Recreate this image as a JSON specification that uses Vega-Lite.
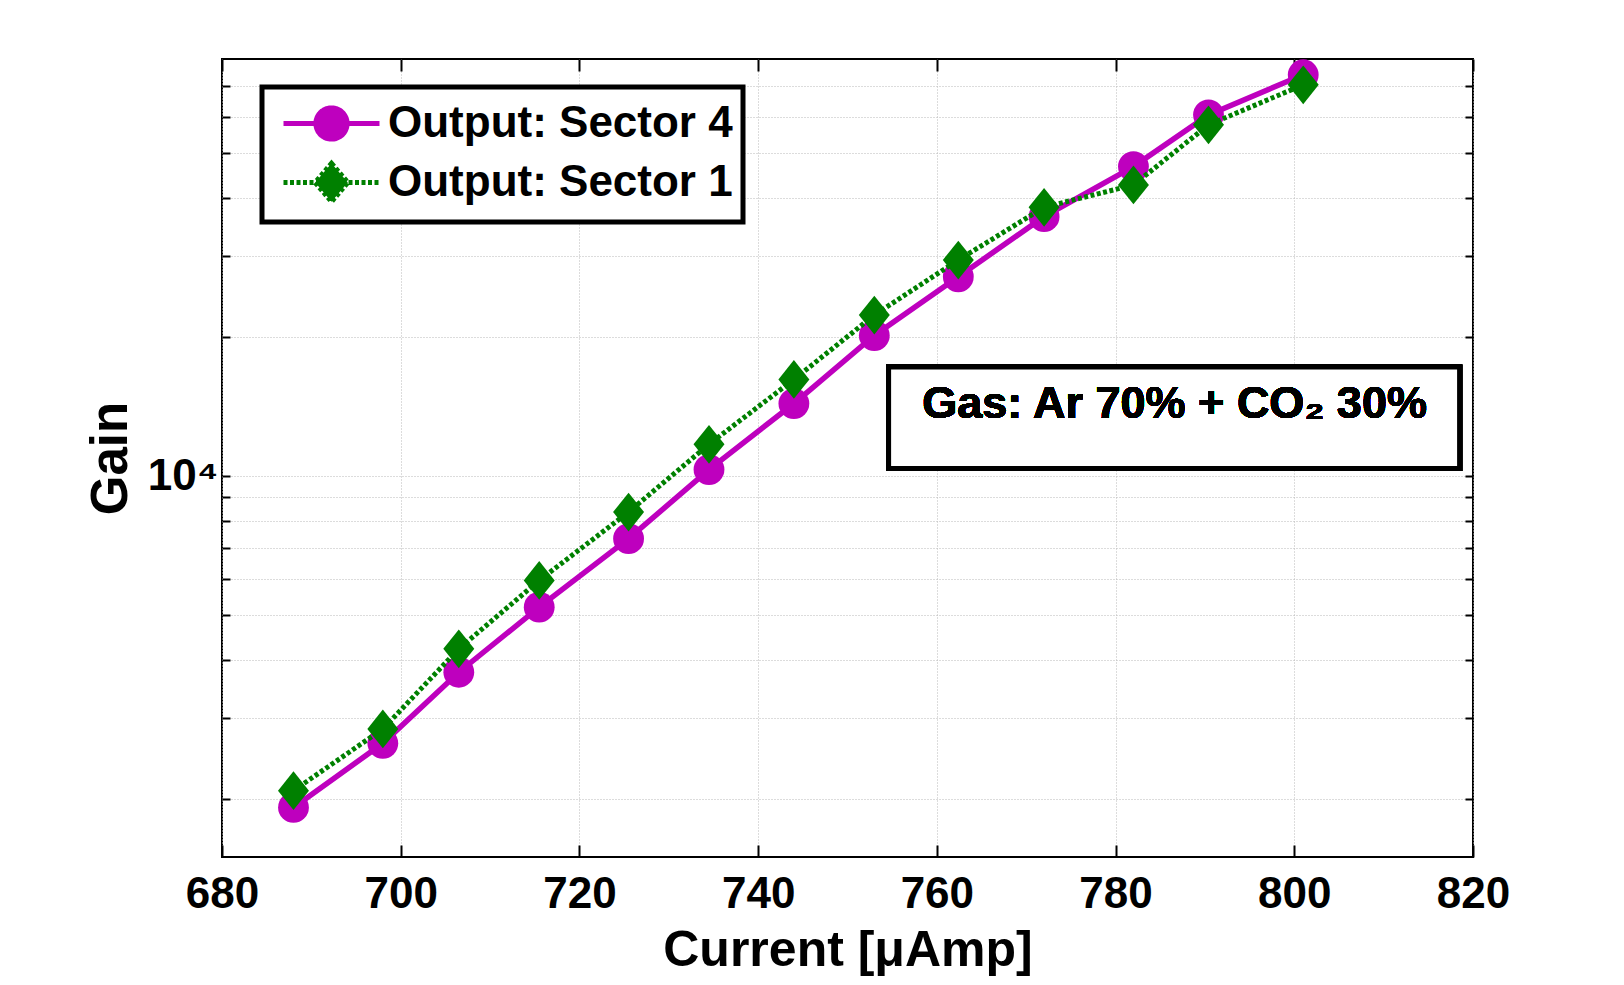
{
  "$schema": "https://vega.github.io/schema/vega-lite/v6.json",
  "width": 1251,
  "height": 798,
  "autosize": {"type": "none"},
  "padding": {"left": 222, "top": 59, "right": 151, "bottom": 128},
  "background": "white",
  "config": {
    "font": "Liberation Sans, Arial, sans-serif",
    "view": {"stroke": "black", "strokeWidth": 2},
    "axis": {
      "domain": false,
      "grid": true,
      "gridColor": "#b8b8b8",
      "gridDash": [1, 2],
      "gridWidth": 1,
      "tickColor": "black",
      "tickWidth": 2,
      "labelColor": "black",
      "labelFontWeight": "bold",
      "labelFontSize": 44,
      "titleFontWeight": "bold",
      "titleColor": "black"
    }
  },
  "data": {
    "values": [
      {"series": "Output: Sector 4", "current": 688, "gain": 1920},
      {"series": "Output: Sector 4", "current": 698, "gain": 2643},
      {"series": "Output: Sector 4", "current": 706.5, "gain": 3767},
      {"series": "Output: Sector 4", "current": 715.5, "gain": 5209},
      {"series": "Output: Sector 4", "current": 725.5, "gain": 7328},
      {"series": "Output: Sector 4", "current": 734.5, "gain": 10340},
      {"series": "Output: Sector 4", "current": 744, "gain": 14370},
      {"series": "Output: Sector 4", "current": 753, "gain": 20170},
      {"series": "Output: Sector 4", "current": 762.4, "gain": 27030},
      {"series": "Output: Sector 4", "current": 772, "gain": 36470},
      {"series": "Output: Sector 4", "current": 782, "gain": 46800},
      {"series": "Output: Sector 4", "current": 790.4, "gain": 60560},
      {"series": "Output: Sector 4", "current": 801, "gain": 73950},
      {"series": "Output: Sector 1", "current": 688, "gain": 2088},
      {"series": "Output: Sector 1", "current": 698, "gain": 2839},
      {"series": "Output: Sector 1", "current": 706.5, "gain": 4232},
      {"series": "Output: Sector 1", "current": 715.5, "gain": 5952},
      {"series": "Output: Sector 1", "current": 725.5, "gain": 8369},
      {"series": "Output: Sector 1", "current": 734.5, "gain": 11730},
      {"series": "Output: Sector 1", "current": 744, "gain": 16200},
      {"series": "Output: Sector 1", "current": 753, "gain": 22330},
      {"series": "Output: Sector 1", "current": 762.4, "gain": 29380},
      {"series": "Output: Sector 1", "current": 772, "gain": 38210},
      {"series": "Output: Sector 1", "current": 782, "gain": 42710},
      {"series": "Output: Sector 1", "current": 790.4, "gain": 57620},
      {"series": "Output: Sector 1", "current": 801, "gain": 70350}
    ]
  },
  "layer": [
    {
      "transform": [{"filter": "datum.series === 'Output: Sector 4'"}],
      "mark": {"type": "line", "strokeWidth": 5.5},
      "encoding": {
        "x": {
          "field": "current", "type": "quantitative",
          "scale": {"domain": [680, 820], "nice": false, "zero": false},
          "axis": {
            "orient": "bottom",
            "values": [680, 700, 720, 740, 760, 780, 800, 820],
            "tickSize": -12,
            "labelPadding": 27,
            "labelFlush": false,
            "title": "Current [μAmp]",
            "titleFontSize": 50,
            "titlePadding": 9
          }
        },
        "y": {
          "field": "gain", "type": "quantitative",
          "scale": {"type": "log", "domain": [1500, 80000], "nice": false},
          "axis": {
            "orient": "left",
            "values": [2000, 3000, 4000, 5000, 6000, 7000, 8000, 9000, 10000, 20000, 30000, 40000, 50000, 60000, 70000],
            "tickSize": -8,
            "labelPadding": 12,
            "labelExpr": "datum.value == 10000 ? '10⁴' : ''",
            "title": "Gain",
            "titleFontSize": 51,
            "titlePadding": 10
          }
        },
        "color": {
          "field": "series", "type": "nominal",
          "scale": {"domain": ["Output: Sector 4", "Output: Sector 1"], "range": ["#BE00BE", "#008000"]},
          "legend": {
            "title": null,
            "orient": "none",
            "legendX": 40,
            "legendY": 28,
            "fillColor": "white",
            "strokeColor": "black",
            "padding": 10,
            "symbolSize": 2304,
            "symbolOffset": 33,
            "labelOffset": 30,
            "labelFontSize": 44,
            "labelFontWeight": "bold",
            "labelColor": "black",
            "labelLimit": 800,
            "rowPadding": 3,
            "encode": {
              "legend": {"update": {"strokeWidth": {"value": 5}}},
              "symbols": {
                "update": {
                  "shape": {"signal": "datum.value === 'Output: Sector 4' ? 'M-2,0H2M0.65,0A0.65,0.65 0 1,1 -0.65,0A0.65,0.65 0 1,1 0.65,0Z' : 'M-2,0H2M0,-0.8L0.68,0L0,0.8L-0.68,0Z'"},
                  "fill": {"signal": "datum.value === 'Output: Sector 4' ? '#BE00BE' : '#008000'"},
                  "stroke": {"signal": "datum.value === 'Output: Sector 4' ? '#BE00BE' : '#008000'"},
                  "strokeWidth": {"value": 5},
                  "strokeDash": {"signal": "datum.value === 'Output: Sector 4' ? [1, 0] : [4, 2.5]"},
                  "opacity": {"value": 1},
                  "fillOpacity": {"value": 1},
                  "strokeOpacity": {"value": 1},
                  "size": {"value": 2304}
                }
              }
            }
          }
        }
      }
    },
    {
      "transform": [{"filter": "datum.series === 'Output: Sector 4'"}],
      "mark": {"type": "point", "shape": "circle", "filled": true, "size": 950, "opacity": 1},
      "encoding": {
        "x": {"field": "current", "type": "quantitative", "axis": null},
        "y": {"field": "gain", "type": "quantitative", "axis": null},
        "color": {"field": "series", "type": "nominal"}
      }
    },
    {
      "transform": [{"filter": "datum.series === 'Output: Sector 1'"}],
      "mark": {"type": "line", "strokeWidth": 5, "strokeDash": [4, 2.5]},
      "encoding": {
        "x": {
          "field": "current", "type": "quantitative",
          "axis": {
            "orient": "top",
            "values": [680, 700, 720, 740, 760, 780, 800, 820],
            "tickSize": -12,
            "labels": false,
            "title": null,
            "grid": false
          }
        },
        "y": {
          "field": "gain", "type": "quantitative",
          "axis": {
            "orient": "right",
            "values": [2000, 3000, 4000, 5000, 6000, 7000, 8000, 9000, 10000, 20000, 30000, 40000, 50000, 60000, 70000],
            "tickSize": -8,
            "labels": false,
            "title": null,
            "grid": false
          }
        },
        "color": {"field": "series", "type": "nominal"}
      }
    },
    {
      "transform": [{"filter": "datum.series === 'Output: Sector 1'"}],
      "mark": {"type": "point", "shape": "M0,-1L0.8,0L0,1L-0.8,0Z", "filled": true, "size": 1500, "opacity": 1},
      "encoding": {
        "x": {"field": "current", "type": "quantitative", "axis": null},
        "y": {"field": "gain", "type": "quantitative", "axis": null},
        "color": {"field": "series", "type": "nominal"}
      }
    },
    {
      "mark": {"type": "rect", "fill": "white", "stroke": "black", "strokeWidth": 5},
      "encoding": {
        "x": {"datum": 754.6, "type": "quantitative", "axis": null},
        "x2": {"datum": 818.5},
        "y": {"datum": 10400, "type": "quantitative", "axis": null},
        "y2": {"datum": 17230}
      }
    },
    {
      "mark": {"type": "text", "text": "Gas: Ar 70% + CO₂ 30%", "fontSize": 45, "fontWeight": "bold", "color": "black", "align": "center", "baseline": "alphabetic"},
      "encoding": {
        "x": {"datum": 786.6, "type": "quantitative", "axis": null},
        "y": {"datum": 13360, "type": "quantitative", "axis": null}
      }
    }
  ],
  "resolve": {"axis": {"x": "independent", "y": "independent"}}
}
